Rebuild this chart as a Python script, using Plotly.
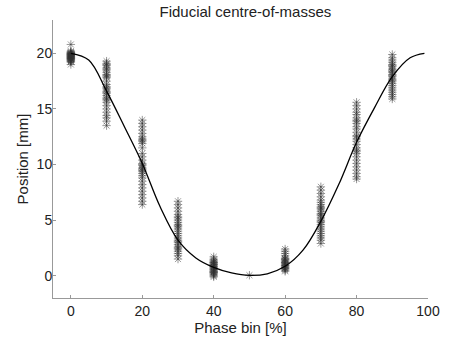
import plotly.graph_objects as go

# Phase bins and measured fiducial positions (mm) per bin
phase_bins = [0, 10, 20, 30, 40, 50, 60, 70, 80, 90]
pos_0 = [20.8, 20.1, 20.0, 19.9, 19.8, 19.7, 19.6, 19.5, 19.4, 19.3, 19.9, 20.2, 19.7, 19.5,
         19.8, 20.0, 19.6, 19.4, 19.3, 19.9, 20.1, 19.7, 19.2, 19.0, 19.8, 19.6, 20.0, 19.5]
pos_10 = [19.3, 19.1, 18.9, 18.7, 18.5, 18.3, 18.1, 18.0, 17.8, 17.5, 17.2, 17.0, 16.8, 16.6,
          16.4, 16.2, 16.0, 15.8, 15.6, 15.3, 15.0, 14.7, 14.4, 14.2, 13.9, 13.5, 18.6, 17.9,
          16.5, 16.9, 15.9, 19.0]
pos_20 = [14.0, 13.7, 13.4, 13.1, 12.8, 12.5, 12.3, 12.1, 11.9, 11.5, 11.0, 10.7, 10.4, 10.1,
          9.9, 9.7, 9.5, 9.2, 9.0, 8.8, 8.5, 8.2, 7.9, 7.6, 7.3, 7.0, 6.7, 6.4, 12.2, 10.0, 9.4, 9.6]
pos_30 = [6.7, 6.4, 6.1, 5.8, 5.5, 5.2, 5.0, 4.8, 4.6, 4.4, 4.2, 4.0, 3.8, 3.6, 3.4, 3.2, 3.0,
          2.8, 2.6, 2.4, 2.2, 2.0, 1.8, 1.5, 4.5, 3.1, 2.5, 5.3]
pos_40 = [1.7, 1.5, 1.4, 1.3, 1.2, 1.1, 1.0, 0.9, 0.8, 0.7, 0.6, 0.5, 0.4, 0.3, 0.2, 0.1, 0.0,
          -0.1, 1.2, 0.8, 0.6, 0.4, 1.0, 0.3]
pos_50 = [0.05]
pos_60 = [2.4, 2.2, 2.0, 1.8, 1.6, 1.5, 1.4, 1.3, 1.2, 1.1, 1.0, 0.9, 0.8, 0.7, 0.6, 0.5, 0.4,
          1.2, 0.9, 1.5, 0.7]
pos_70 = [8.0, 7.7, 7.4, 7.1, 6.8, 6.6, 6.4, 6.2, 6.0, 5.8, 5.6, 5.4, 5.2, 5.0, 4.8, 4.6, 4.4,
          4.2, 4.0, 3.8, 3.6, 3.4, 3.2, 2.9, 6.1, 5.5, 4.9]
pos_80 = [15.6, 15.3, 15.0, 14.7, 14.5, 14.2, 14.0, 13.7, 13.4, 13.2, 12.9, 12.6, 12.3, 12.1,
          11.8, 11.5, 11.2, 11.0, 10.7, 10.4, 10.1, 9.8, 9.5, 9.2, 8.9, 8.7, 12.5, 11.3, 13.9]
pos_90 = [19.9, 19.6, 19.4, 19.2, 19.0, 18.8, 18.6, 18.5, 18.3, 18.1, 17.9, 17.7, 17.5, 17.3,
          17.1, 16.9, 16.7, 16.5, 16.3, 16.1, 15.9, 18.4, 18.0, 17.6, 18.9]
positions = [pos_0, pos_10, pos_20, pos_30, pos_40, pos_50, pos_60, pos_70, pos_80, pos_90]

# Fitted motion model curve
curve_x = [0, 5, 10, 15, 20, 25, 30, 35, 40, 45, 50, 55, 60, 65, 70, 75, 80, 85, 90, 95, 99]
curve_y = [20.0, 19.4, 16.6, 13.4, 10.1, 6.2, 3.2, 1.6, 0.75, 0.25, 0.03, 0.18, 0.85, 2.3,
           4.9, 8.2, 12.0, 15.1, 17.9, 19.6, 20.0]

x_ticks = [0, 20, 40, 60, 80, 100]
y_ticks = [0, 5, 10, 15, 20]

scatter_x = []
scatter_y = []
for b, vals in zip(phase_bins, positions):
    scatter_x += [b] * len(vals)
    scatter_y += vals

FONT = "Liberation Sans, Arial, sans-serif"

fig = go.Figure()
fig.add_trace(go.Scatter(
    x=scatter_x, y=scatter_y, mode="markers",
    marker=dict(symbol="asterisk-open", size=7, color="rgba(50,50,50,0.5)",
                line=dict(width=1, color="rgba(50,50,50,0.5)")),
    showlegend=False, hoverinfo="skip"))
fig.add_trace(go.Scatter(
    x=curve_x, y=curve_y, mode="lines",
    line=dict(color="black", width=1.3, shape="spline", smoothing=1.0),
    showlegend=False))

fig.update_layout(
    width=452, height=344,
    margin=dict(l=53, r=21, t=20, b=44),
    paper_bgcolor="white", plot_bgcolor="white",
    font=dict(family=FONT, size=14, color="#222"),
    title=dict(text="Fiducial centre-of-masses", x=0.513, xref="paper", xanchor="center",
               y=1 - 12 / 344, yref="container", yanchor="middle",
               font=dict(size=15, color="#222")),
)
fig.update_xaxes(
    range=[-5, 100], tickvals=x_ticks, ticks="inside", ticklen=3,
    tickcolor="#999", showline=True, linecolor="#999", linewidth=1,
    showgrid=False, zeroline=False, tickfont=dict(size=14),
    title=dict(text="Phase bin [%]", font=dict(size=15), standoff=3))
fig.update_yaxes(
    range=[-2, 23], tickvals=y_ticks, ticks="inside", ticklen=3,
    tickcolor="#999", showline=True, linecolor="#999", linewidth=1,
    showgrid=False, zeroline=False, tickfont=dict(size=14), ticklabelstandoff=-3,
    title=dict(text="Position [mm]", font=dict(size=15), standoff=4))

fig.write_html("out.html")
